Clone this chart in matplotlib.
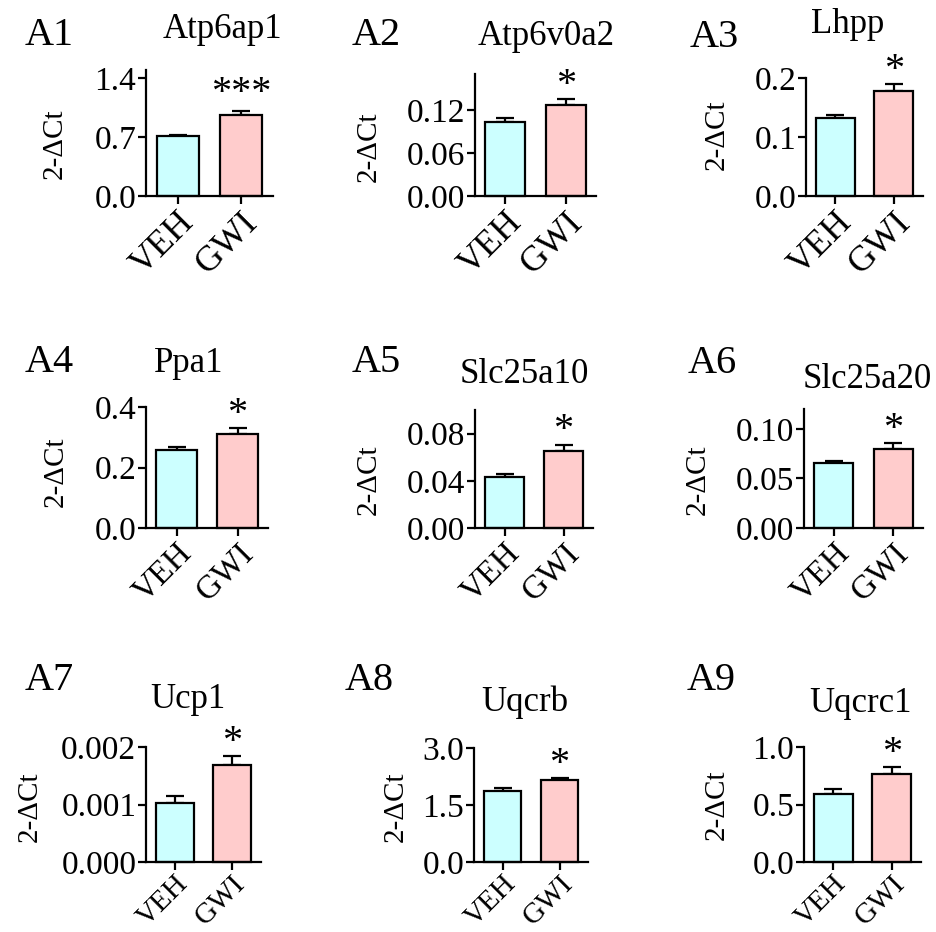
import matplotlib
matplotlib.use("Agg")
import matplotlib.pyplot as plt
import matplotlib.transforms as mtransforms

plt.rcParams['font.family'] = ['Liberation Serif', 'DejaVu Serif']

# ---------------- data ----------------
panel_ids = ['A1', 'A2', 'A3', 'A4', 'A5', 'A6', 'A7', 'A8', 'A9']
genes = ['Atp6ap1', 'Atp6v0a2', 'Lhpp', 'Ppa1', 'Slc25a10', 'Slc25a20', 'Ucp1', 'Uqcrb', 'Uqcrc1']
groups = ['VEH', 'GWI']
veh_mean = [0.71, 0.103, 0.132, 0.258, 0.043, 0.0657, 0.00102, 1.87, 0.59]
veh_sem = [0.02, 0.006, 0.005, 0.009, 0.003, 0.0015, 0.00013, 0.08, 0.045]
gwi_mean = [0.97, 0.127, 0.178, 0.311, 0.065, 0.080, 0.00169, 2.16, 0.765]
gwi_sem = [0.04, 0.008, 0.012, 0.019, 0.0057, 0.006, 0.00015, 0.05, 0.061]
stars = ['***', '*', '*', '*', '*', '*', '*', '*', '*']
yticks = [[0, 0.7, 1.4], [0, 0.06, 0.12], [0, 0.1, 0.2], [0, 0.2, 0.4], [0, 0.04, 0.08],
          [0, 0.05, 0.10], [0, 0.001, 0.002], [0, 1.5, 3.0], [0, 0.5, 1.0]]
ytick_labels = [['0.0', '0.7', '1.4'], ['0.00', '0.06', '0.12'], ['0.0', '0.1', '0.2'],
                ['0.0', '0.2', '0.4'], ['0.00', '0.04', '0.08'], ['0.00', '0.05', '0.10'],
                ['0.000', '0.001', '0.002'], ['0.0', '1.5', '3.0'], ['0.0', '0.5', '1.0']]
ymax = [1.5, 0.17, 0.2, 0.4, 0.1, 0.12, 0.002, 3.0, 1.0]
ylabel = '2-\u0394Ct'

# ---------------- layout (pixels) ----------------
W, H = 936, 932
# left (y-axis), right (x-axis end), bottom (zero), top (axis top)
boxes = [(146, 273, 196, 70), (475, 596, 196, 74), (806, 923, 196, 78),
         (146, 268, 528, 407), (475, 593, 528, 410), (804, 923, 528, 409),
         (146, 261, 862, 747), (474, 588, 862, 748), (804, 921, 862, 747)]
# panel label (x left, baseline y)
label_pos = [(25, 45), (352, 45), (690, 47), (25, 372), (352, 372), (688, 373),
             (25, 690), (345, 690), (687, 690)]
# gene title (center x, baseline y)
title_pos = [(222, 38), (546, 45), (848, 33), (189, 372), (524, 383), (867, 388),
             (188, 708), (525, 711), (861, 712)]
# y-label center (x, y)
ylab_pos = [(55, 144), (369, 147), (717, 135), (56, 472), (369, 480), (698, 480),
            (30, 807), (396, 807), (717, 805)]
xfs = [26, 26, 26, 24, 24, 24, 21, 21, 21]
xpad = [1, 1, 1, 1, 1, 1, 0, 0, 0]
star_dy = [6, 3, 3, 3, 3, 3, 3, 3, 3]

fig = plt.figure(figsize=(W / 100, H / 100), dpi=100)
fig.patch.set_facecolor('white')

colors = ['#CCFFFF', '#FFCCCC']
shift = mtransforms.ScaledTranslation(3 / 100, 0, fig.dpi_scale_trans)

for i in range(9):
    L, R, B, T = boxes[i]
    ax = fig.add_axes([L / W, 1 - B / H, (R - L) / W, (B - T) / H])
    x = [0, 1]
    means = [veh_mean[i], gwi_mean[i]]
    sems = [veh_sem[i], gwi_sem[i]]
    ax.bar(x, means, width=0.66, color=colors, edgecolor='black', linewidth=1.6, zorder=2,
           clip_on=False)
    ax.errorbar(x, means, yerr=[[0, 0], sems], fmt='none', ecolor='black', elinewidth=1.6,
                capsize=6.5, capthick=1.6, zorder=1, clip_on=False)
    ax.set_xlim(-0.5, 1.5)
    ax.set_ylim(0, ymax[i])
    ax.set_yticks(yticks[i])
    ax.set_yticklabels(ytick_labels[i], fontsize=24)
    ax.set_xticks(x)
    ax.set_xticklabels(groups, fontsize=xfs[i], rotation=45, ha='right', va='top',
                       rotation_mode='anchor')
    for lab in ax.get_xticklabels():
        lab.set_transform(lab.get_transform() + shift)
    for s in ['top', 'right']:
        ax.spines[s].set_visible(False)
    for s in ['left', 'bottom']:
        ax.spines[s].set_linewidth(1.6)
    ax.tick_params(axis='both', direction='out', length=6, width=1.6, pad=1)
    ax.tick_params(axis='x', pad=xpad[i])

    # significance stars
    top = gwi_mean[i] + gwi_sem[i]
    off = mtransforms.offset_copy(ax.transData, fig=fig, x=0, y=star_dy[i], units='points')
    ax.text(1, top, stars[i], transform=off, ha='center', va='baseline', fontsize=29,
            clip_on=False)

    lx, ly = label_pos[i]
    fig.text(lx / W, 1 - ly / H, panel_ids[i], fontsize=29, ha='left', va='baseline')
    tx, ty = title_pos[i]
    fig.text(tx / W, 1 - ty / H, genes[i], fontsize=25, ha='center', va='baseline')
    yx, yy = ylab_pos[i]
    fig.text(yx / W, 1 - yy / H, ylabel, fontsize=21, rotation=90, ha='center', va='center')

fig.savefig('out.png', dpi=100, facecolor='white')
